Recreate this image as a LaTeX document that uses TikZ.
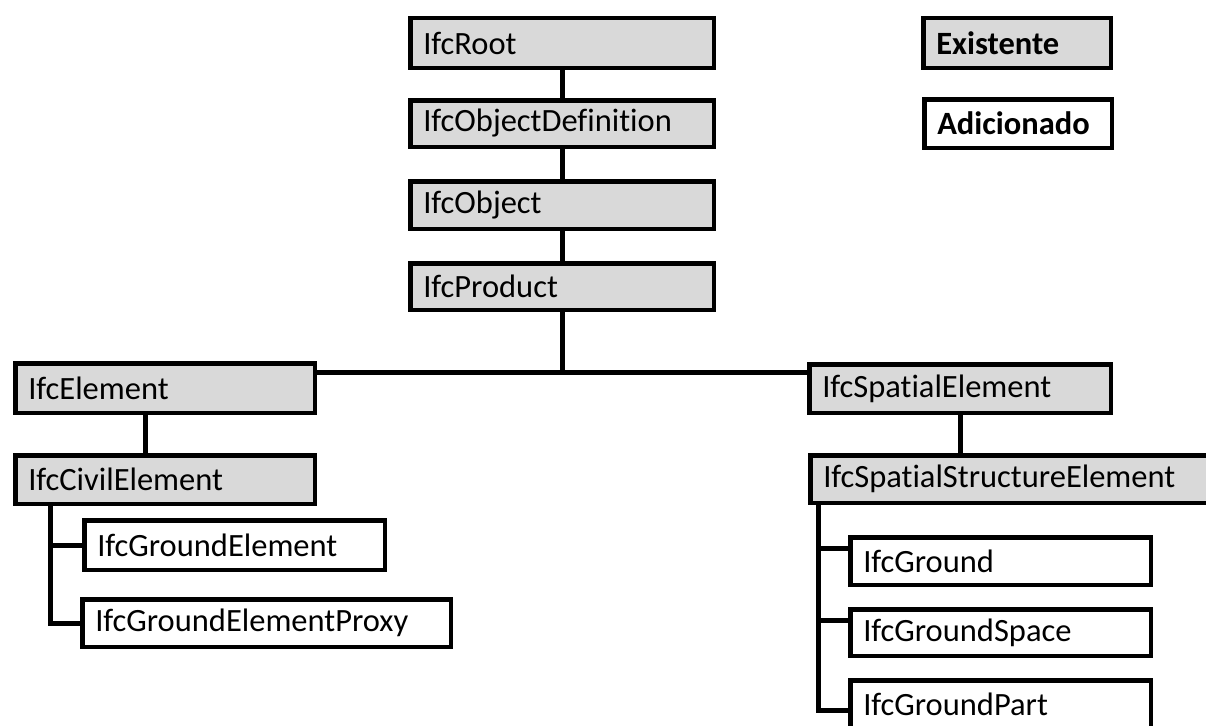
\documentclass[tikz,border=0pt]{standalone}
\usepackage{fontspec}
\setmainfont{Carlito}[Ligatures={NoCommon,NoRare,NoContextual}]
\usetikzlibrary{calc}
\definecolor{boxgray}{HTML}{D9D9D9}
\begin{document}
\begin{tikzpicture}[x=1pt,y=-1pt,
  font=\fontsize{32.5}{39}\selectfont,
  box/.style={draw=black, line width=4.5pt, anchor=north west, inner xsep=13pt, inner ysep=0pt, align=left},
  old/.style={box, fill=boxgray},
  new/.style={box, fill=white},
  conn/.style={draw=black, line width=5pt}]
\useasboundingbox (0,0) rectangle (1206,725);
\clip (0,0) rectangle (1206,725);

% legend
\node[old, text width=161.5pt, minimum height=49.5pt, font=\fontsize{32.5}{39}\selectfont\bfseries] (leg1) at (921,16) {Existente};
\node[new, text width=161.5pt, minimum height=48.5pt, font=\fontsize{32.5}{39}\selectfont\bfseries] (leg2) at (922,97) {Adicionado};

% central chain
\node[old, text width=277.5pt, minimum height=49.5pt] (root) at (408,16) {IfcRoot};
\node[old, text width=277.5pt, minimum height=46.5pt] (objdef) at (408,98) {IfcObjectDefinition};
\node[old, text width=277.5pt, minimum height=47.5pt] (object) at (408,179) {IfcObject};
\node[old, text width=277.5pt, minimum height=46.5pt] (product) at (408,261) {IfcProduct};

% left branch
\node[old, text width=273.5pt, minimum height=49.5pt] (element) at (13,361) {IfcElement};
\node[old, text width=273.5pt, minimum height=48.5pt] (civil) at (13,453) {IfcCivilElement};
\node[new, text width=274.5pt, minimum height=49.5pt] (gelem) at (82,518) {IfcGroundElement};
\node[new, text width=342.5pt, minimum height=47.5pt] (proxy) at (80,597) {IfcGroundElementProxy};

% right branch
\node[old, text width=275.5pt, minimum height=48.5pt] (spatial) at (807,362) {IfcSpatialElement};
\node[old, text width=381.5pt, minimum height=47.5pt] (sse) at (808,453) {IfcSpatialStructureElement};
\node[new, text width=274.5pt, minimum height=47.5pt] (ground) at (848,535) {IfcGround};
\node[new, text width=274.5pt, minimum height=46.5pt] (gspace) at (848,607) {IfcGroundSpace};
\node[new, text width=274.5pt, minimum height=47.5pt] (gpart) at (848,678) {IfcGroundPart};

% connectors: chain
\draw[conn] (root.south) -- (objdef.north);
\draw[conn] (objdef.south) -- (object.north);
\draw[conn] (object.south) -- (product.north);

% bus
\coordinate (busL) at ($(element.north east)+(0,11)$);
\coordinate (busR) at (busL -| spatial.west);
\draw[conn] (busL) -- (busR);
\draw[conn] (product.south) -- (product.south |- busL);

% left
\draw[conn] ($(element.south west)+(132,0)$) -- ($(civil.north west)+(132,0)$);
\coordinate (lt) at ($(civil.south west)+(37,0)$);
\draw[conn] (lt) |- (proxy.west);
\draw[conn] (gelem.west) -- (gelem.west -| lt);

% right
\draw[conn] (spatial.south) -- (spatial.south |- sse.north);
\coordinate (rt) at ($(sse.south west)+(10,0)$);
\coordinate (b1) at ($(ground.north west)+(0,13)$);
\coordinate (b2) at ($(gspace.north west)+(0,13)$);
\coordinate (b3) at ($(gpart.north west)+(0,32)$);
\draw[conn] (rt) |- (b3);
\draw[conn] (b1) -- (b1 -| rt);
\draw[conn] (b2) -- (b2 -| rt);
\end{tikzpicture}
\end{document}
